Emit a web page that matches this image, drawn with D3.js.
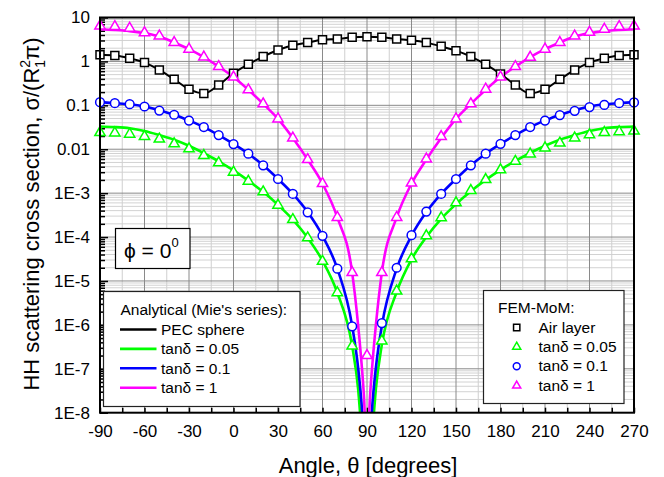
<!DOCTYPE html>
<html>
<head>
<meta charset="utf-8">
<script src="https://cdn.jsdelivr.net/npm/d3@7"></script>
<style>
  html, body { margin: 0; padding: 0; background: #fff; }
  svg { display: block; font-family: "Liberation Sans", Arial, Helvetica, sans-serif; }
</style>
</head>
<body>
<svg id="chart" width="664" height="477"></svg>
<script>
// Angles (degrees) of the FEM-MoM samples
const femAngles = [-90, -80, -70, -60, -50, -40, -30, -20, -10, 0, 10, 20, 30, 40, 50, 60, 70, 80, 90,
  100, 110, 120, 130, 140, 150, 160, 170, 180, 190, 200, 210, 220, 230, 240, 250, 260, 270];

// FEM-MoM results (normalised RCS)
const femAirLayer = [1.41, 1.36, 1.18, 0.94, 0.64, 0.39, 0.233, 0.186, 0.29, 0.54, 0.86, 1.29, 1.82, 2.34, 2.68, 3.1, 3.24, 3.55, 3.66,
  3.55, 3.24, 3.03, 2.68, 2.21, 1.76, 1.29, 0.86, 0.52, 0.29, 0.186, 0.233, 0.39, 0.64, 0.94, 1.18, 1.36, 1.41];
const femTan005 = [0.024, 0.0234, 0.022, 0.0195, 0.017, 0.0133, 0.0102, 0.0072, 0.0049, 0.0030, 0.00187, 0.00107, 5.3e-4, 2.5e-4, 9.6e-5, 2.8e-5, 5.4e-6, 3.3e-7, null,
  4.3e-7, 5.9e-6, 3.2e-5, 1.07e-4, 2.75e-4, 6.0e-4, 0.00115, 0.00204, 0.0034, 0.0053, 0.0078, 0.0107, 0.0138, 0.018, 0.0214, 0.024, 0.025, 0.026];
const femTan01 = [0.118, 0.112, 0.106, 0.094, 0.076, 0.061, 0.045, 0.032, 0.021, 0.0131, 0.0079, 0.0043, 0.0021, 9.6e-4, 3.65e-4, 1.07e-4, 1.9e-5, 9.3e-7, null,
  1.1e-6, 2.0e-5, 1.1e-4, 3.8e-4, 9.6e-4, 0.0021, 0.0043, 0.0079, 0.0133, 0.021, 0.032, 0.045, 0.060, 0.075, 0.091, 0.102, 0.112, 0.116];
const femTan1 = [6.4, 6.2, 5.7, 4.5, 3.8, 2.7, 1.9, 1.26, 0.76, 0.44, 0.225, 0.108, 0.049, 0.018, 0.0058, 0.00165, 2.8e-4, 1.55e-5, 2.0e-7,
  1.55e-5, 2.8e-4, 0.0017, 0.006, 0.0195, 0.049, 0.108, 0.233, 0.44, 0.76, 1.24, 1.9, 2.7, 3.8, 4.6, 5.4, 6.2, 6.4];

// Analytical (Mie series) results; lossy spheres are sampled more finely around the null at 90 deg
const pecSphere = [1.41, 1.36, 1.18, 0.94, 0.64, 0.39, 0.233, 0.186, 0.29, 0.54, 0.86, 1.29, 1.82, 2.34, 2.68, 3.1, 3.24, 3.55, 3.66,
  3.55, 3.24, 3.03, 2.68, 2.21, 1.76, 1.29, 0.86, 0.52, 0.29, 0.186, 0.233, 0.39, 0.64, 0.94, 1.18, 1.36, 1.41];
const mieAngles = [-90, -80, -70, -60, -50, -40, -30, -20, -10, 0, 10, 20, 30, 40, 50, 60, 70, 80,
  84, 86, 88, 89, 91, 92, 94, 96,
  100, 110, 120, 130, 140, 150, 160, 170, 180, 190, 200, 210, 220, 230, 240, 250, 260, 270];
const mieTan005 = [0.033, 0.032, 0.030, 0.026, 0.021, 0.0165, 0.012, 0.0081, 0.0053, 0.0033, 0.00193, 0.00107, 5.4e-4, 2.5e-4, 9.6e-5, 2.9e-5, 5.4e-6, 3.3e-7,
  3.5e-8, 5e-9, 6e-10, 2e-10, 2e-10, 6e-10, 5e-9, 3.5e-8,
  3.5e-7, 5.6e-6, 3.1e-5, 1.0e-4, 2.6e-4, 5.6e-4, 0.0011, 0.002, 0.0034, 0.0054, 0.0082, 0.012, 0.0165, 0.021, 0.026, 0.030, 0.032, 0.033];
const mieTan01 = [0.118, 0.112, 0.106, 0.094, 0.077, 0.061, 0.045, 0.032, 0.021, 0.0132, 0.0079, 0.0043, 0.0021, 9.6e-4, 3.7e-4, 1.07e-4, 1.9e-5, 9.5e-7,
  1.07e-7, 2.2e-8, 2.5e-9, 8e-10, 8e-10, 2.5e-9, 2.2e-8, 1.07e-7,
  9.5e-7, 1.9e-5, 1.07e-4, 3.7e-4, 9.6e-4, 0.0021, 0.0043, 0.0079, 0.0132, 0.021, 0.032, 0.045, 0.061, 0.077, 0.094, 0.106, 0.112, 0.118];
const mieTan1 = [5.4, 5.2, 4.9, 4.4, 3.7, 2.7, 1.9, 1.25, 0.76, 0.44, 0.225, 0.108, 0.049, 0.018, 0.0058, 0.00165, 2.8e-4, 1.55e-5,
  1e-6, 1.8e-7, 2.2e-8, 5e-9, 5e-9, 2.2e-8, 1.8e-7, 1e-6,
  1.55e-5, 2.8e-4, 0.00165, 0.0058, 0.018, 0.049, 0.108, 0.225, 0.44, 0.76, 1.25, 1.9, 2.7, 3.7, 4.4, 4.9, 5.2, 5.4];

// Axis ticks and labels
const xTicks = [-90, -75, -60, -45, -30, -15, 0, 15, 30, 45, 60, 75, 90, 105, 120, 135, 150, 165, 180, 195, 210, 225, 240, 255, 270];
const yDecades = [10, 1, 0.1, 0.01, 1e-3, 1e-4, 1e-5, 1e-6, 1e-7, 1e-8];
const yTickLabels = ["10", "1", "0.1", "0.01", "1E-3", "1E-4", "1E-5", "1E-6", "1E-7", "1E-8"];

const colors = { pec: "#000000", t005: "#00ff00", t01: "#0000ff", t1: "#ff00ff" };

const svg = d3.select("#chart");
const plot = { left: 100, right: 634, top: 17.5, bottom: 412.7 };

const x = d3.scaleLinear().domain([-90, 270]).range([plot.left, plot.right]);
const y = d3.scaleLog().domain([1e-8, 10]).range([plot.bottom, plot.top]);

// minor log positions 2..9 in each decade
const yMinor = [];
yDecades.slice(1).forEach(d => { for (let k = 2; k <= 9; k++) yMinor.push(d * k); });

// grid
const grid = svg.append("g");
grid.selectAll("line.hmin").data(yMinor).join("line")
  .attr("x1", plot.left).attr("x2", plot.right)
  .attr("y1", d => y(d)).attr("y2", d => y(d))
  .attr("stroke", "#d2d2d2").attr("stroke-width", 1);
grid.selectAll("line.vmin").data(xTicks.filter(d => d % 30 !== 0)).join("line")
  .attr("x1", d => x(d)).attr("x2", d => x(d))
  .attr("y1", plot.top).attr("y2", plot.bottom)
  .attr("stroke", "#cfcfcf").attr("stroke-width", 1);
grid.selectAll("line.hmaj").data(yDecades.slice(1, -1)).join("line")
  .attr("x1", plot.left).attr("x2", plot.right)
  .attr("y1", d => y(d)).attr("y2", d => y(d))
  .attr("stroke", "#8a8a8a").attr("stroke-width", 1);
grid.selectAll("line.vmaj").data(xTicks.filter(d => d % 30 === 0 && d > -90 && d < 270)).join("line")
  .attr("x1", d => x(d)).attr("x2", d => x(d))
  .attr("y1", plot.top).attr("y2", plot.bottom)
  .attr("stroke", "#8a8a8a").attr("stroke-width", 1);

// axes
const xAxis = svg.append("g").attr("transform", `translate(0,${plot.bottom})`)
  .call(d3.axisBottom(x).tickValues(xTicks).tickSize(-5).tickPadding(12)
    .tickFormat(d => (d % 30 === 0 ? String(d) : "")));
const yAxis = svg.append("g").attr("transform", `translate(${plot.left},0)`)
  .call(d3.axisLeft(y).tickValues(yDecades).tickSize(-8).tickPadding(10)
    .tickFormat((d, i) => yTickLabels[i]));
const yAxisMinor = svg.append("g").attr("transform", `translate(${plot.left},0)`)
  .call(d3.axisLeft(y).tickValues(yMinor).tickSize(-5).tickFormat(""));
[xAxis, yAxis, yAxisMinor].forEach(g => {
  g.select(".domain").remove();
  g.selectAll(".tick line").attr("stroke", "#000").attr("stroke-width", 1.5);
  g.selectAll(".tick text").attr("fill", "#000").attr("font-size", 17)
    .attr("font-family", "'Liberation Sans', Arial, sans-serif");
});

// clip region for curves
svg.append("clipPath").attr("id", "plotClip").append("rect")
  .attr("x", plot.left).attr("y", plot.top)
  .attr("width", plot.right - plot.left).attr("height", plot.bottom - plot.top);

const curves = svg.append("g").attr("clip-path", "url(#plotClip)");
const lineGen = d3.line().defined(d => d[1] != null)
  .x(d => x(d[0])).y(d => y(d[1])).curve(d3.curveMonotoneX);

const lineSeries = [
  { angles: mieAngles, values: mieTan005, color: colors.t005, width: 2.6 },
  { angles: mieAngles, values: mieTan01, color: colors.t01, width: 2.6 },
  { angles: mieAngles, values: mieTan1, color: colors.t1, width: 2.6 },
  { angles: femAngles, values: pecSphere, color: colors.pec, width: 2 }
];
lineSeries.forEach(s => {
  curves.append("path")
    .datum(s.angles.map((a, i) => [a, s.values[i]]))
    .attr("d", lineGen)
    .attr("fill", "none").attr("stroke", s.color).attr("stroke-width", s.width)
    .attr("stroke-linejoin", "round");
});

// FEM-MoM markers
const markerSeries = [
  { values: femTan005, color: colors.t005, type: "triangle" },
  { values: femTan01, color: colors.t01, type: "circle" },
  { values: femAirLayer, color: colors.pec, type: "square" },
  { values: femTan1, color: colors.t1, type: "triangle" }
];
function symbolPath(type, scale) {
  if (type === "square") return d3.symbol(d3.symbolSquare, 64 * scale)();
  if (type === "triangle") return d3.symbol(d3.symbolTriangle, 46 * scale)();
  return d3.symbol(d3.symbolCircle, 60 * scale)();
}
const markers = svg.append("g");
markerSeries.forEach(s => {
  const pts = femAngles.map((a, i) => [a, s.values[i]])
    .filter(d => d[1] != null && d[1] >= 1e-8 && d[1] <= 10);
  markers.append("g").selectAll("path").data(pts).join("path")
    .attr("transform", d => `translate(${x(d[0])},${y(d[1])})`)
    .attr("d", symbolPath(s.type, 1))
    .attr("fill", "#fff").attr("stroke", s.color).attr("stroke-width", 1.5);
});

// frame
svg.append("rect")
  .attr("x", plot.left).attr("y", plot.top)
  .attr("width", plot.right - plot.left).attr("height", plot.bottom - plot.top)
  .attr("fill", "none").attr("stroke", "#000").attr("stroke-width", 2);

// axis titles
svg.append("text")
  .attr("x", (plot.left + plot.right) / 2 + 1).attr("y", 473)
  .attr("text-anchor", "middle").attr("font-size", 22)
  .text("Angle, θ [degrees]");

const yTitle = svg.append("text")
  .attr("transform", "translate(39,214) rotate(-90)")
  .attr("text-anchor", "middle").attr("font-size", 22);
yTitle.append("tspan").text("HH scattering cross section, σ/(R");
yTitle.append("tspan").attr("font-size", 14).attr("dy", 6).text("1");
yTitle.append("tspan").attr("font-size", 14).attr("dx", -7.8).attr("dy", -15).text("2");
yTitle.append("tspan").attr("dy", 9).text("π)");

// phi annotation
svg.append("rect").attr("x", 115.5).attr("y", 228.5).attr("width", 74.5).attr("height", 40)
  .attr("fill", "#fff").attr("stroke", "#000").attr("stroke-width", 1.2);
const phi = svg.append("text").attr("x", 124).attr("y", 258).attr("font-size", 21);
phi.append("tspan").text("ϕ = 0");
phi.append("tspan").attr("font-size", 13).attr("dy", -11).text("0");

// legend: analytical lines
const legL = svg.append("g");
legL.append("rect").attr("x", 103.5).attr("y", 291.5).attr("width", 196.5).attr("height", 115)
  .attr("fill", "#fff").attr("stroke", "#222").attr("stroke-width", 1.2);
legL.append("text").attr("x", 120.5).attr("y", 315).attr("font-size", 15.5)
  .text("Analytical (Mie's series):");
const legLItems = [
  { label: "PEC sphere", color: colors.pec },
  { label: "tanδ = 0.05", color: colors.t005 },
  { label: "tanδ = 0.1", color: colors.t01 },
  { label: "tanδ = 1", color: colors.t1 }
];
legLItems.forEach((d, i) => {
  const cy = 329.5 + i * 19.4;
  legL.append("line").attr("x1", 120).attr("x2", 156.5).attr("y1", cy).attr("y2", cy)
    .attr("stroke", d.color).attr("stroke-width", 2.6);
  legL.append("text").attr("x", 161).attr("y", cy + 5.5).attr("font-size", 15.5).text(d.label);
});

// legend: FEM-MoM markers
const legR = svg.append("g");
legR.append("rect").attr("x", 483.5).attr("y", 290.5).attr("width", 140.5).attr("height", 113)
  .attr("fill", "#fff").attr("stroke", "#222").attr("stroke-width", 1.2);
legR.append("text").attr("x", 498).attr("y", 313).attr("font-size", 15.5).text("FEM-MoM:");
const legRItems = [
  { label: "Air layer", color: colors.pec, type: "square" },
  { label: "tanδ = 0.05", color: colors.t005, type: "triangle" },
  { label: "tanδ = 0.1", color: colors.t01, type: "circle" },
  { label: "tanδ = 1", color: colors.t1, type: "triangle" }
];
legRItems.forEach((d, i) => {
  const cy = 327.5 + i * 19.4;
  legR.append("path").attr("transform", `translate(516.7,${cy})`)
    .attr("d", symbolPath(d.type, 0.62))
    .attr("fill", "#fff").attr("stroke", d.color).attr("stroke-width", 1.5);
  legR.append("text").attr("x", 538.5).attr("y", cy + 5).attr("font-size", 15.5).text(d.label);
});
</script>
</body>
</html>
